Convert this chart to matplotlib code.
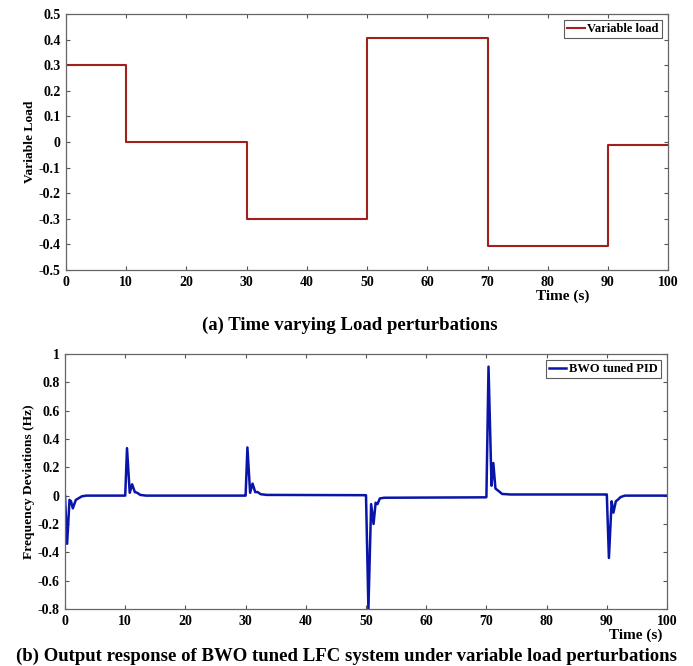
import matplotlib
matplotlib.use("Agg")
import matplotlib.pyplot as plt

plt.rcParams['font.family'] = 'Liberation Serif'
plt.rcParams['font.weight'] = 'bold'

# (a) step load profile
load_t = [0, 10, 30, 50, 70, 90, 100]
load_v = [0.3, 0.0, -0.3, 0.405, -0.405, -0.01, -0.01]

# (b) frequency deviation
freq_t = [0, 0.35, 0.75, 1.0, 1.3, 1.8, 2.2, 2.8, 3.5, 9.95,
          10.0, 10.3, 10.75, 11.15, 11.6, 12.0, 12.5, 13.5, 29.95,
          30.0, 30.3, 30.75, 31.15, 31.6, 32.0, 32.5, 33.5, 49.95,
          50.0, 50.4, 50.85, 51.25, 51.6, 51.9, 52.3, 53.0, 69.95,
          70.0, 70.35, 70.85, 71.15, 71.5, 71.8, 72.1, 72.6, 74.0, 89.95,
          90.0, 90.35, 90.8, 91.1, 91.5, 91.8, 92.3, 93.0, 100]
freq_v = [0, -0.34, -0.03, -0.04, -0.09, -0.03, -0.02, -0.005, 0, 0,
          0, 0.335, 0.02, 0.08, 0.025, 0.02, 0.005, 0, 0,
          0, 0.34, 0.02, 0.085, 0.025, 0.025, 0.01, 0.005, 0.003,
          0.003, -0.80, -0.06, -0.20, -0.05, -0.06, -0.02, -0.015, -0.012,
          -0.01, 0.91, 0.07, 0.23, 0.05, 0.04, 0.03, 0.012, 0.008, 0.008,
          0.008, -0.44, -0.04, -0.12, -0.04, -0.03, -0.01, 0, 0]

xticks = list(range(0, 101, 10))
fig = plt.figure(figsize=(6.93, 6.66), dpi=100)


def style(ax):
    ax.tick_params(direction='in', top=True, right=True, length=3,
                   labelsize=10, color='#555555', pad=4)
    for s in ax.spines.values():
        s.set_color('#666666')
        s.set_linewidth(0.9)
    for lab in ax.get_xticklabels() + ax.get_yticklabels():
        lab.set_fontweight('bold')


ax1 = fig.add_axes([0.0952, 0.5946, 0.869, 0.3844])
ax1.step(load_t, load_v, where='post', color='#A0201E', lw=1.5, label='Variable load')
ax1.set_xlim(0, 100)
ax1.set_ylim(-0.5, 0.5)
ax1.set_xticks(xticks)
ax1.set_yticks([-0.5, -0.4, -0.3, -0.2, -0.1, 0, 0.1, 0.2, 0.3, 0.4, 0.5])
ax1.set_yticklabels(['-0.5', '-0.4', '-0.3', '-0.2', '-0.1', '0', '0.1', '0.2', '0.3', '0.4', '0.5'])
style(ax1)
ax1.set_ylabel('Variable Load', fontsize=9.7, fontweight='bold', labelpad=2)
ax1.set_xlabel('Time (s)', fontsize=11, fontweight='bold', labelpad=-4)
ax1.xaxis.set_label_coords(0.824, -0.075)
leg1 = ax1.legend(loc='upper right', handlelength=1.4, handletextpad=0.2,
                  borderpad=0.25, borderaxespad=0.5, fancybox=False,
                  prop={'weight': 'bold', 'size': 9})
leg1.get_frame().set_edgecolor('#333333')
leg1.get_frame().set_linewidth(0.8)

fig.text(0.505, 0.512, '(a) Time varying Load perturbations', ha='center', va='center',
         fontsize=13.5, fontweight='bold')

ax2 = fig.add_axes([0.0938, 0.0856, 0.8687, 0.383])
ax2.plot(freq_t, freq_v, color='#0A14A8', lw=1.8, label='BWO tuned PID')
ax2.set_xlim(0, 100)
ax2.set_ylim(-0.8, 1.0)
ax2.set_xticks(xticks)
ax2.set_yticks([-0.8, -0.6, -0.4, -0.2, 0, 0.2, 0.4, 0.6, 0.8, 1.0])
ax2.set_yticklabels(['-0.8', '-0.6', '-0.4', '-0.2', '0', '0.2', '0.4', '0.6', '0.8', '1'])
style(ax2)
ax2.set_ylabel('Frequency Deviations (Hz)', fontsize=9.7, fontweight='bold', labelpad=2)
ax2.set_xlabel('Time (s)', fontsize=11, fontweight='bold')
ax2.xaxis.set_label_coords(0.948, -0.075)
leg2 = ax2.legend(loc='upper right', handlelength=1.4, handletextpad=0.2,
                  borderpad=0.25, borderaxespad=0.5, fancybox=False,
                  prop={'weight': 'bold', 'size': 9})
leg2.get_frame().set_edgecolor('#333333')
leg2.get_frame().set_linewidth(0.8)

fig.text(0.5, 0.014, '(b) Output response of BWO tuned LFC system under variable load perturbations',
         ha='center', va='center', fontsize=13.5, fontweight='bold')

fig.savefig('out.png', dpi=100)
